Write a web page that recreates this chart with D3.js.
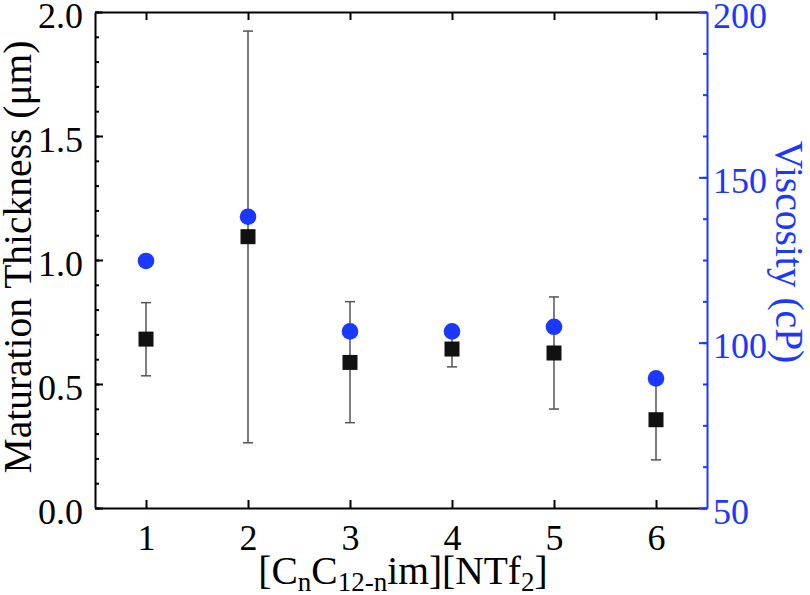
<!DOCTYPE html>
<html>
<head>
<meta charset="utf-8">
<script src="https://cdn.jsdelivr.net/npm/d3@7"></script>
<style>
  body { margin: 0; background: #fff; }
  svg { font-family: "Liberation Serif", "Times New Roman", serif; }
</style>
</head>
<body>
<div id="chart"></div>
<script>
// data
const chainN = [1, 2, 3, 4, 5, 6];
const thickness = [0.681, 1.094, 0.587, 0.641, 0.625, 0.356];
const thickLow = [0.533, 0.263, 0.344, 0.569, 0.399, 0.194];
const thickHigh = [0.828, 1.923, 0.832, 0.713, 0.851, 0.518];
const viscosity = [124.7, 138.1, 103.4, 103.4, 104.8, 89.2];
const leftTicks = [0, 0.5, 1.0, 1.5, 2.0];
const rightTicks = [50, 100, 150, 200];

const W = 810, H = 595;
const margin = {top: 12, right: 103, bottom: 87, left: 95};
const blue = '#1a38ff';
const tickFont = 36;
const titleFont = 39.5;

const svg = d3.select('#chart').append('svg')
    .attr('width', W)
    .attr('height', H);

const x = d3.scaleLinear().domain([0.5, 6.5]).range([margin.left, W - margin.right]);
const y = d3.scaleLinear().domain([0, 2]).range([H - margin.bottom, margin.top]);
const y2 = d3.scaleLinear().domain([50, 200]).range([H - margin.bottom, margin.top]);

const x0 = margin.left, x1 = W - margin.right;
const yB = H - margin.bottom, yT = margin.top;

const styleText = (s, fill) => s.selectAll('.tick text')
    .attr('font-size', tickFont)
    .attr('font-family', 'Liberation Serif')
    .attr('fill', fill);

const g = svg.append('g');

// bottom axis
g.append('g')
    .attr('transform', `translate(0,${yB})`)
    .call(d3.axisBottom(x).tickValues(chainN).tickSizeInner(-8).tickSizeOuter(0).tickPadding(16).tickFormat(d3.format('d')))
    .call(s => s.select('.domain').attr('stroke-width', 2))
    .call(s => s.selectAll('.tick line').attr('stroke-width', 2))
    .call(s => styleText(s, '#000'));

// top axis, ticks only
g.append('g')
    .attr('transform', `translate(0,${yT})`)
    .call(d3.axisTop(x).tickValues(chainN).tickSizeInner(-8).tickSizeOuter(0).tickFormat(''))
    .call(s => s.select('.domain').attr('stroke-width', 2))
    .call(s => s.selectAll('.tick line').attr('stroke-width', 2));

// left axis, minor then major
g.append('g')
    .attr('transform', `translate(${x0},0)`)
    .call(d3.axisLeft(y).tickValues(d3.range(0, 2.001, 0.1)).tickSizeInner(-4).tickSizeOuter(0).tickFormat(''))
    .call(s => s.select('.domain').remove())
    .call(s => s.selectAll('.tick line').attr('stroke-width', 2));
g.append('g')
    .attr('transform', `translate(${x0},0)`)
    .call(d3.axisLeft(y).tickValues(leftTicks).tickSizeInner(-8).tickSizeOuter(0).tickPadding(12).tickFormat(d3.format('.1f')))
    .call(s => s.select('.domain').attr('stroke-width', 2))
    .call(s => s.selectAll('.tick line').attr('stroke-width', 2))
    .call(s => styleText(s, '#000').attr('dy', '0.42em'));

// right axis (blue)
g.append('g')
    .attr('transform', `translate(${x1},0)`)
    .call(d3.axisRight(y2).tickValues(d3.range(50, 200.1, 12.5)).tickSizeInner(-4).tickSizeOuter(0).tickFormat(''))
    .call(s => s.select('.domain').remove())
    .call(s => s.selectAll('.tick line').attr('stroke', blue).attr('stroke-width', 2));
g.append('g')
    .attr('transform', `translate(${x1},0)`)
    .call(d3.axisRight(y2).tickValues(rightTicks).tickSizeInner(-8).tickSizeOuter(0).tickPadding(6))
    .call(s => s.select('.domain').attr('stroke', blue).attr('stroke-width', 2))
    .call(s => s.selectAll('.tick line').attr('stroke', blue).attr('stroke-width', 2))
    .call(s => styleText(s, blue).attr('dy', '0.42em'));

// error bars
const eb = svg.append('g').attr('stroke', '#555').attr('stroke-width', 1.5);
chainN.forEach((n, i) => {
  const cx = x(n);
  eb.append('line').attr('x1', cx).attr('x2', cx).attr('y1', y(thickLow[i])).attr('y2', y(thickHigh[i]));
  eb.append('line').attr('x1', cx - 5).attr('x2', cx + 5).attr('y1', y(thickLow[i])).attr('y2', y(thickLow[i]));
  eb.append('line').attr('x1', cx - 5).attr('x2', cx + 5).attr('y1', y(thickHigh[i])).attr('y2', y(thickHigh[i]));
});

// squares
const sq = 15;
svg.append('g').selectAll('rect')
    .data(chainN)
    .join('rect')
    .attr('x', (d) => x(d) - sq / 2)
    .attr('y', (d, i) => y(thickness[i]) - sq / 2)
    .attr('width', sq)
    .attr('height', sq)
    .attr('fill', '#111');

// viscosity circles
svg.append('g').selectAll('circle')
    .data(chainN)
    .join('circle')
    .attr('cx', (d) => x(d))
    .attr('cy', (d, i) => y2(viscosity[i]))
    .attr('r', 8.3)
    .attr('fill', blue);

// axis titles
svg.append('text')
    .attr('transform', `translate(31,257) rotate(-90)`)
    .attr('text-anchor', 'middle')
    .attr('font-size', titleFont)
    .text('Maturation Thickness (μm)');

svg.append('text')
    .attr('transform', `translate(776,252) rotate(90)`)
    .attr('text-anchor', 'middle')
    .attr('font-size', titleFont)
    .attr('fill', blue)
    .text('Viscosity (cP)');

const xt = svg.append('text')
    .attr('x', 403)
    .attr('y', 584)
    .attr('text-anchor', 'middle')
    .attr('font-size', titleFont);
xt.append('tspan').text('[C');
xt.append('tspan').attr('font-size', 27).attr('dy', 7).text('n');
xt.append('tspan').attr('dy', -7).text('C');
xt.append('tspan').attr('font-size', 27).attr('dy', 7).text('12-n');
xt.append('tspan').attr('dy', -7).text('im][NTf');
xt.append('tspan').attr('font-size', 27).attr('dy', 7).text('2');
xt.append('tspan').attr('dy', -7).text(']');
</script>
</body>
</html>
